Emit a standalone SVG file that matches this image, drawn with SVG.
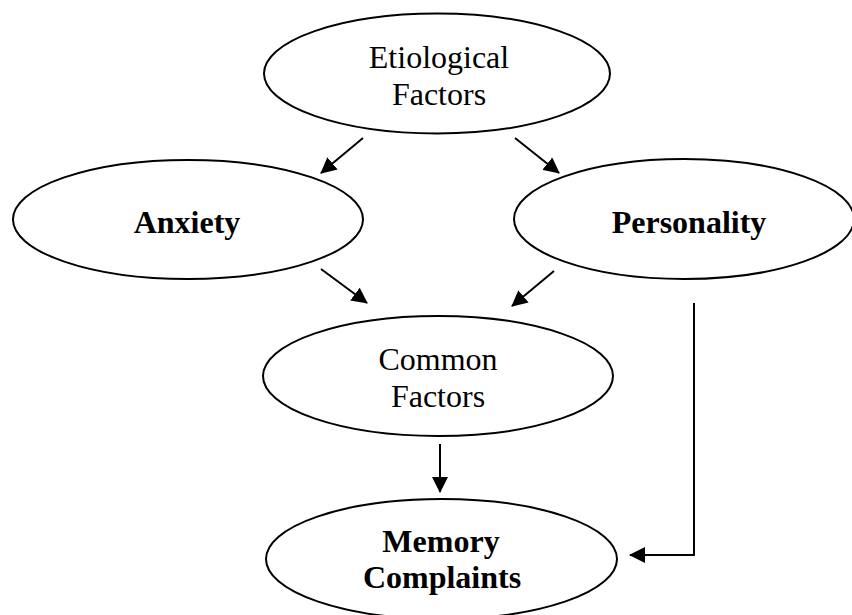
<svg xmlns="http://www.w3.org/2000/svg" width="852" height="615" viewBox="0 0 852 615">
<style>
.node ellipse{fill:#fff;stroke:#000;stroke-width:2}
.node text{font-family:"Liberation Serif","Times New Roman",serif;font-size:32px;fill:#000;text-anchor:middle}
.node text.b{font-weight:bold}
.edges path{fill:none;stroke:#000;stroke-width:2}
</style>
<defs>
<marker id="ah" viewBox="0 0 16 16" refX="15" refY="8" markerWidth="16" markerHeight="16" markerUnits="userSpaceOnUse" orient="auto">
<path d="M0,0 L16,8 L0,16 Z" fill="#000"/>
</marker>
</defs>
<rect width="852" height="615" fill="#fff"/>
<g id="etiological" class="node">
<ellipse cx="437" cy="73.5" rx="173" ry="60"/>
<text x="439" y="68">Etiological</text>
<text x="439" y="105">Factors</text>
</g>
<g id="anxiety" class="node">
<ellipse cx="188" cy="219.5" rx="175" ry="59.5"/>
<text class="b" x="187" y="233">Anxiety</text>
</g>
<g id="personality" class="node">
<ellipse cx="684" cy="219" rx="170" ry="60"/>
<text class="b" x="689" y="233">Personality</text>
</g>
<g id="common" class="node">
<ellipse cx="438" cy="376" rx="175" ry="60"/>
<text x="438" y="370">Common</text>
<text x="438" y="407">Factors</text>
</g>
<g id="memory" class="node">
<ellipse cx="441.5" cy="559" rx="175.5" ry="60"/>
<text class="b" x="441" y="552">Memory</text>
<text class="b" x="442" y="588">Complaints</text>
</g>
<g id="connectors" class="edges">
<path d="M363,138 L321,173" marker-end="url(#ah)"/>
<path d="M515,138 L559,173" marker-end="url(#ah)"/>
<path d="M321,269 L367,303" marker-end="url(#ah)"/>
<path d="M554,271 L512,306" marker-end="url(#ah)"/>
<path d="M440,444 L440,492" marker-end="url(#ah)"/>
<path d="M694,303 L694,555 L630,555" marker-end="url(#ah)"/>
</g>
</svg>
